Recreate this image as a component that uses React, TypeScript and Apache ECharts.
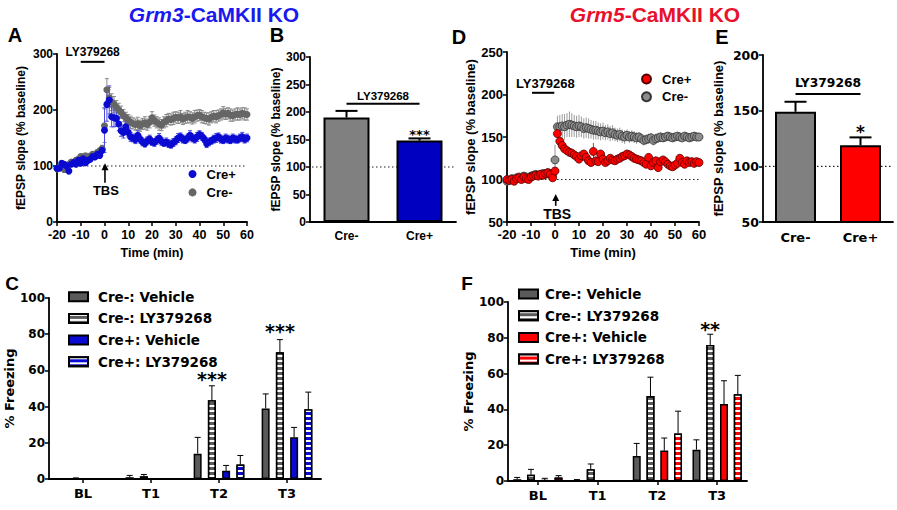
import React, { useEffect, useRef } from 'react';
import * as echarts from 'echarts';

// ---------- DATA ----------
const TIME = [-20,-19,-18,-17,-16,-15,-14,-13,-12,-11,-10,-9,-8,-7,-6,-5,-4,-3,-2,-1,0,1,2,3,4,5,6,7,8,9,10,11,12,13,14,15,16,17,18,19,20,21,22,23,24,25,26,27,28,29,30,31,32,33,34,35,36,37,38,39,40,41,42,43,44,45,46,47,48,49,50,51,52,53,54,55,56,57,58,59,60];

// Panel A (Grm3)
const A_CREP = [96,96,105,103,100,91,103,106,103,110,105,113,106,110,112,117,116,121,119,128,164,210,218,188,186,185,175,163,160,170,160,152,150,147,155,148,143,140,145,148,143,142,146,150,144,141,143,140,138,142,145,150,152,148,146,150,155,150,148,152,156,153,148,140,143,145,148,150,152,148,146,150,148,146,150,148,147,150,152,148,150];
const A_CREP_ERR = [3,4,4,3,4,5,4,4,3,4,4,5,4,4,4,5,4,5,4,5,40,30,25,18,16,14,12,10,10,9,8,8,7,7,8,7,7,6,7,7,6,7,7,8,7,6,7,7,6,7,7,8,7,7,6,7,8,7,7,8,7,7,6,7,7,6,7,8,7,7,6,7,7,6,7,7,6,7,8,7,7];
const A_CREM = [95,97,99,94,96,103,107,106,110,112,117,116,118,115,118,121,120,124,127,131,172,236,222,214,210,205,200,196,190,186,182,178,176,174,176,172,175,177,174,178,186,181,178,175,173,178,181,184,183,185,187,186,188,184,186,188,187,185,188,190,191,188,186,185,184,187,189,188,190,192,195,193,194,191,190,192,193,192,194,193,192];
const A_CREM_ERR = [5,5,4,5,5,5,4,5,5,5,4,5,5,5,4,5,5,5,5,6,30,20,18,15,14,12,12,11,11,10,10,11,10,10,11,10,10,11,10,10,11,10,10,11,10,10,11,10,10,11,10,10,11,10,10,11,10,10,11,10,10,11,10,10,11,10,10,11,10,10,11,10,10,11,10,10,11,10,10,11,10];

// Panel D (Grm5)
const D_CREP = [100,99,100,98,101,102,100,103,101,100,103,104,105,104,106,105,107,108,106,102,110,154,145,140,136,134,132,131,129,127,124,128,130,126,122,120,133,122,121,130,124,120,122,125,123,122,124,125,127,128,130,129,127,125,124,123,122,120,118,126,116,120,122,114,121,123,121,118,116,115,117,119,125,120,118,122,120,121,119,121,120];
const D_CREP_ERR = [2,2,2,2,2,2,2,2,2,2,2,2,2,2,2,2,2,2,2,2,4,4,4,4,4,3,3,3,3,3,3,3,3,3,3,3,10,3,3,4,3,3,3,3,3,3,3,3,3,3,3,3,3,3,3,3,3,3,3,3,3,3,3,3,3,3,3,3,3,3,3,3,3,3,3,3,3,3,3,3,3];
const D_CREM = [98,99,101,100,102,103,101,104,103,102,104,105,106,105,106,107,106,108,107,105,123,162,162,163,162,164,165,164,163,162,163,162,160,161,160,159,158,158,157,156,157,155,156,154,155,153,152,153,151,150,152,150,151,150,149,150,148,146,147,148,149,146,148,149,150,149,150,151,150,149,150,151,150,149,151,150,149,150,151,150,150];
const D_CREM_ERR = [3,3,3,3,3,3,3,3,3,3,3,3,3,3,3,3,3,3,3,3,18,13,14,14,15,14,15,14,13,13,13,12,12,12,12,11,11,11,10,10,10,9,9,9,9,8,8,8,8,8,7,7,7,7,7,6,6,6,6,6,6,6,6,6,6,5,5,5,5,5,5,5,5,5,5,5,5,5,5,5,5];

// Panel B / E (bars)
const BE_CATS = ['Cre-', 'Cre+'];
const B_VALS = [190, 148];
const B_TOPS = [202, 152];
const E_VALS = [149, 119];
const E_TOPS = [158, 126];

// Panels C / F (freezing)
const FZ_CATS = ['BL', 'T1', 'T2', 'T3'];
const FZ_NAMES = ['Cre-: Vehicle', 'Cre-: LY379268', 'Cre+: Vehicle', 'Cre+: LY379268'];
const C_VALS = [[0, 1, 14, 39], [0.3, 1.5, 43.5, 70], [0, 0, 4.5, 23], [0, 0, 8, 38.5]];
const C_TOPS = [[0, 2, 23, 47], [0.6, 2.5, 51.5, 77], [0, 0, 7.5, 28.5], [0, 0, 13, 48]];
const F_VALS = [[1, 0.3, 14, 17.5], [3.5, 6.5, 47.5, 76], [0.5, 0, 17, 43], [2, 0, 26.5, 48.5]];
const F_TOPS = [[2, 0.8, 21, 23], [6.5, 9.5, 58, 82], [1.5, 0, 24, 56], [3, 0, 39, 59]];

// ---------- STYLE ----------
const ARIAL = '"Liberation Sans", Arial, sans-serif';
const DEJA = '"DejaVu Sans", sans-serif';
const BLUE = '#0a0ad2';
const RED = '#ff0000';
const DGRAY = '#5a5a5a';

function scatterErr(xi: number, yi: number, vals: number[], errs: number[], color: string, cap: number, lw: number) {
  return {
    type: 'custom', xAxisIndex: xi, yAxisIndex: yi, silent: true,
    data: TIME.map((t, i) => [t, vals[i] - errs[i], vals[i] + errs[i]]),
    encode: { x: 0, y: [1, 2] },
    renderItem: (params: any, api: any) => {
      const lo = api.coord([api.value(0), api.value(1)]);
      const hi = api.coord([api.value(0), api.value(2)]);
      const st = { stroke: color, lineWidth: lw };
      const ch: any[] = [{ type: 'line', shape: { x1: lo[0], y1: lo[1], x2: hi[0], y2: hi[1] }, style: st }];
      if (cap > 0) {
        ch.push({ type: 'line', shape: { x1: hi[0] - cap / 2, y1: hi[1], x2: hi[0] + cap / 2, y2: hi[1] }, style: st });
        ch.push({ type: 'line', shape: { x1: lo[0] - cap / 2, y1: lo[1], x2: lo[0] + cap / 2, y2: lo[1] }, style: st });
      }
      return { type: 'group', children: ch };
    },
  };
}

function barErr(xi: number, yi: number, vals: number[], tops: number[], slot: number, n: number, step: number, cap: number, lw: number) {
  return {
    type: 'custom', xAxisIndex: xi, yAxisIndex: yi, silent: true, z: 5,
    data: vals.map((v, i) => [i, v, tops[i]]),
    encode: { x: 0, y: [1, 2] },
    renderItem: (params: any, api: any) => {
      const v = api.value(1), t = api.value(2);
      if (!(t > v)) return { type: 'group', children: [] };
      const c0 = api.coord([api.value(0), v]);
      const c1 = api.coord([api.value(0), t]);
      const x = c0[0] + (slot - (n - 1) / 2) * step;
      const st = { stroke: '#000', lineWidth: lw };
      return {
        type: 'group', children: [
          { type: 'line', shape: { x1: x, y1: c0[1], x2: x, y2: c1[1] }, style: st },
          { type: 'line', shape: { x1: x - cap / 2, y1: c1[1], x2: x + cap / 2, y2: c1[1] }, style: st },
        ],
      };
    },
  };
}

function dotted(xi: number, yi: number, x0: number) {
  return {
    type: 'custom', xAxisIndex: xi, yAxisIndex: yi, silent: true, z: 0,
    data: [[x0, 100]],
    renderItem: (params: any, api: any) => {
      const cs = params.coordSys;
      const y = api.coord([api.value(0), 100])[1];
      return { type: 'line', shape: { x1: cs.x + 2, y1: y, x2: cs.x + cs.width, y2: y }, style: { stroke: '#222', lineWidth: 1.2, lineDash: [1.5, 2.5] } };
    },
  };
}

function annot(xi: number, yi: number, items: any[]) {
  return {
    type: 'custom', xAxisIndex: xi, yAxisIndex: yi, silent: true, z: 6,
    data: items.map((it) => [it.x, it.y]),
    encode: { x: 0, y: 1 },
    renderItem: (params: any, api: any) => {
      const it = items[params.dataIndex];
      if (it.kind === 'hline') {
        const a = api.coord([it.x, it.y]);
        const b = api.coord([it.x2, it.y]);
        return { type: 'line', shape: { x1: a[0], y1: a[1], x2: b[0], y2: b[1] }, style: { stroke: '#000', lineWidth: it.lw || 2 } };
      }
      if (it.kind === 'arrow') {
        const a = api.coord([it.x, it.y]);
        const b = api.coord([it.x, it.y2]);
        return {
          type: 'group', children: [
            { type: 'line', shape: { x1: a[0], y1: a[1], x2: b[0], y2: b[1] + 4 }, style: { stroke: '#000', lineWidth: 1.6 } },
            { type: 'polygon', shape: { points: [[b[0], b[1]], [b[0] - 3.5, b[1] + 7], [b[0] + 3.5, b[1] + 7]] }, style: { fill: '#000' } },
          ],
        };
      }
      let p = api.coord([it.x, it.y]);
      if (it.xb !== undefined) {
        const q = api.coord([it.xb, it.y]);
        p = [(p[0] + q[0]) / 2, p[1]];
      }
      return {
        type: 'text', x: p[0] + (it.dx || 0), y: p[1],
        style: { text: it.text, fill: '#000', font: it.font, align: 'center', verticalAlign: 'middle' },
      };
    },
  };
}

function axisCommon(font: string, size: number) {
  return {
    axisLine: { show: true, onZero: false, lineStyle: { color: '#000', width: 1.8 } },
    axisTick: { show: true, length: 4, lineStyle: { color: '#000', width: 1.5 } },
    axisLabel: { color: '#000', fontFamily: font, fontWeight: 'bold', fontSize: size, margin: 4 },
    splitLine: { show: false },
    nameTextStyle: { color: '#000', fontFamily: font, fontWeight: 'bold', fontSize: size },
  };
}

const STRIPES = { symbol: 'rect', symbolSize: 1, color: '#ffffff', dashArrayX: [1, 0], dashArrayY: [2, 3], rotation: 0 };

function fzSeries(prefix: string, xi: number, vals: number[][], colors: string[], gap: string) {
  return FZ_NAMES.map((nm, k) => ({
    type: 'bar', name: prefix + nm, xAxisIndex: xi, yAxisIndex: xi, barWidth: 8, barGap: gap, z: 3,
    itemStyle: { color: colors[k], borderColor: '#000', borderWidth: 1.5, decal: k % 2 === 1 ? STRIPES : 'none' },
    data: vals[k],
  }));
}

function buildOption() {
  const grids = [
    { left: 57, top: 54, width: 190, height: 168 },   // A
    { left: 310, top: 57, width: 146, height: 165 },  // B
    { left: 507, top: 52, width: 192, height: 170 },  // D
    { left: 763, top: 55, width: 130, height: 167 },  // E
    { left: 49, top: 298, width: 272, height: 181 },  // C
    { left: 508, top: 302, width: 239, height: 179 }, // F
  ].map((g) => ({ ...g, containLabel: false, outerBoundsMode: 'none' }));

  const yName = 'fEPSP slope (% baseline)';
  const xAxis: any[] = [
    { type: 'value', gridIndex: 0, min: -20, max: 60, interval: 10, name: 'Time (min)', nameLocation: 'middle', nameGap: 24, ...axisCommon(ARIAL, 12.5) },
    { type: 'category', gridIndex: 1, data: BE_CATS, ...axisCommon(ARIAL, 12) },
    { type: 'value', gridIndex: 2, min: -20, max: 60, interval: 10, name: 'Time (min)', nameLocation: 'middle', nameGap: 24, ...axisCommon(ARIAL, 13) },
    { type: 'category', gridIndex: 3, data: BE_CATS, ...axisCommon(DEJA, 13) },
    { type: 'category', gridIndex: 4, data: FZ_CATS, ...axisCommon(DEJA, 13) },
    { type: 'category', gridIndex: 5, data: FZ_CATS, ...axisCommon(DEJA, 13) },
  ];
  xAxis[0].axisLabel = { ...xAxis[0].axisLabel, margin: 6 };
  xAxis[2].axisLabel = { ...xAxis[2].axisLabel, margin: 6 };
  xAxis[1].axisTick = { show: false };
  xAxis[3].axisTick = { show: false };
  xAxis[1].axisLabel = { ...xAxis[1].axisLabel, margin: 8 };
  xAxis[3].axisLabel = { ...xAxis[3].axisLabel, margin: 9 };
  xAxis[4].axisTick = { ...xAxis[4].axisTick, alignWithLabel: true };
  xAxis[5].axisTick = { ...xAxis[5].axisTick, alignWithLabel: true };
  xAxis[4].axisLabel = { ...xAxis[4].axisLabel, margin: 8 };
  xAxis[5].axisLabel = { ...xAxis[5].axisLabel, margin: 8 };

  const yAxis: any[] = [
    { type: 'value', gridIndex: 0, min: 0, max: 300, interval: 100, name: yName, nameLocation: 'middle', nameGap: 30, ...axisCommon(ARIAL, 12) },
    { type: 'value', gridIndex: 1, min: 0, max: 300, interval: 50, name: yName, nameLocation: 'middle', nameGap: 25, ...axisCommon(ARIAL, 12) },
    { type: 'value', gridIndex: 2, min: 50, max: 250, interval: 50, name: yName, nameLocation: 'middle', nameGap: 28, ...axisCommon(ARIAL, 13) },
    { type: 'value', gridIndex: 3, min: 50, max: 200, interval: 50, name: yName, nameLocation: 'middle', nameGap: 38, ...axisCommon(DEJA, 12.5) },
    { type: 'value', gridIndex: 4, min: 0, max: 100, interval: 20, name: '% Freezing', nameLocation: 'middle', nameGap: 29, ...axisCommon(DEJA, 12) },
    { type: 'value', gridIndex: 5, min: 0, max: 100, interval: 20, name: '% Freezing', nameLocation: 'middle', nameGap: 32, ...axisCommon(DEJA, 12) },
  ];
  yAxis[3].nameTextStyle = { ...yAxis[3].nameTextStyle, fontFamily: ARIAL, fontSize: 13 };
  yAxis[4].nameTextStyle = { ...yAxis[4].nameTextStyle, fontSize: 13 };
  yAxis[5].nameTextStyle = { ...yAxis[5].nameTextStyle, fontSize: 13 };

  const series: any[] = [
    // Panel A
    dotted(0, 0, 0),
    scatterErr(0, 0, A_CREM, A_CREM_ERR, '#8a8a8a', 4, 1),
    { type: 'scatter', name: 'A:Cre-', xAxisIndex: 0, yAxisIndex: 0, symbol: 'circle', symbolSize: 7, itemStyle: { color: '#666666', opacity: 1 }, data: TIME.map((t, i) => [t, A_CREM[i]]) },
    scatterErr(0, 0, A_CREP, A_CREP_ERR, '#4a4ae0', 4, 1),
    { type: 'scatter', name: 'A:Cre+', xAxisIndex: 0, yAxisIndex: 0, symbol: 'circle', symbolSize: 7, itemStyle: { color: BLUE, opacity: 1 }, data: TIME.map((t, i) => [t, A_CREP[i]]) },
    annot(0, 0, [
      { kind: 'hline', x: -10, x2: 0, y: 286, lw: 2 },
      { kind: 'text', x: -5, y: 303, text: 'LY379268', font: 'bold 12px ' + ARIAL },
      { kind: 'arrow', x: 0.2, y: 70, y2: 105 },
      { kind: 'text', x: 0.6, y: 57, text: 'TBS', font: 'bold 13px ' + ARIAL },
    ]),

    // Panel B
    dotted(1, 1, 0),
    { type: 'bar', name: 'B', xAxisIndex: 1, yAxisIndex: 1, barWidth: 46, z: 3,
      itemStyle: { borderColor: '#000', borderWidth: 2 },
      data: [{ value: B_VALS[0], itemStyle: { color: '#808080' } }, { value: B_VALS[1], itemStyle: { color: '#0000c0' } }] },
    barErr(1, 1, B_VALS, B_TOPS, 0, 1, 0, 22, 2),
    annot(1, 1, [
      { kind: 'hline', x: 0, x2: 1, y: 215, lw: 2 },
      { kind: 'text', x: 0, xb: 1, y: 229, text: 'LY379268', font: 'bold 11.5px ' + ARIAL },
      { kind: 'text', x: 1, y: 159, text: '***', font: 'bold 13px ' + DEJA },
    ]),

    // Panel D
    dotted(2, 2, 0),
    scatterErr(2, 2, D_CREM, D_CREM_ERR, '#9a9a9a', 0, 1),
    { type: 'scatter', name: 'D:Cre-', xAxisIndex: 2, yAxisIndex: 2, symbol: 'circle', symbolSize: 8, itemStyle: { color: '#8c8c8c', borderColor: '#333', borderWidth: 0.8, opacity: 1 }, data: TIME.map((t, i) => [t, D_CREM[i]]) },
    scatterErr(2, 2, D_CREP, D_CREP_ERR, '#a04040', 0, 1),
    { type: 'scatter', name: 'D:Cre+', xAxisIndex: 2, yAxisIndex: 2, symbol: 'circle', symbolSize: 8, itemStyle: { color: RED, borderColor: '#500', borderWidth: 0.8, opacity: 1 }, data: TIME.map((t, i) => [t, D_CREP[i]]) },
    annot(2, 2, [
      { kind: 'hline', x: -9.6, x2: -0.3, y: 202, lw: 2 },
      { kind: 'text', x: -4, y: 213, text: 'LY379268', font: 'bold 13px ' + ARIAL },
      { kind: 'arrow', x: 0.3, y: 69, y2: 83 },
      { kind: 'text', x: 0.9, y: 60, text: 'TBS', font: 'bold 14px ' + ARIAL },
    ]),

    // Panel E
    dotted(3, 3, 0),
    { type: 'bar', name: 'E', xAxisIndex: 3, yAxisIndex: 3, barWidth: 41, z: 3,
      itemStyle: { borderColor: '#000', borderWidth: 2 },
      data: [{ value: E_VALS[0], itemStyle: { color: '#808080' } }, { value: E_VALS[1], itemStyle: { color: RED } }] },
    barErr(3, 3, E_VALS, E_TOPS, 0, 1, 0, 22, 2),
    annot(3, 3, [
      { kind: 'hline', x: 0, x2: 1, y: 165, lw: 2 },
      { kind: 'text', x: 0, xb: 1, y: 175, text: 'LY379268', font: 'bold 12.3px ' + DEJA },
      { kind: 'text', x: 1, y: 131, text: '*', font: 'bold 17px ' + DEJA },
    ]),

    // Panel C
    ...fzSeries('C:', 4, C_VALS, [DGRAY, DGRAY, BLUE, BLUE], '78%'),
    ...C_VALS.map((v, k) => barErr(4, 4, v, C_TOPS[k], k, 4, 14.2, 6, 1)),
    annot(4, 4, [
      { kind: 'text', x: 2, y: 55, dx: -7, text: '***', font: 'bold 19px ' + DEJA },
      { kind: 'text', x: 3, y: 81.5, dx: -7, text: '***', font: 'bold 19px ' + DEJA },
    ]),

    // Panel F
    ...fzSeries('F:', 5, F_VALS, [DGRAY, DGRAY, RED, RED], '72%'),
    ...F_VALS.map((v, k) => barErr(5, 5, v, F_TOPS[k], k, 4, 13.8, 6, 1)),
    annot(5, 5, [
      { kind: 'text', x: 3, y: 85, dx: -7, text: '**', font: 'bold 19px ' + DEJA },
    ]),
  ];

  const legTxt = (font: string, size: number, lh: number, pad: number) => ({
    color: '#000', fontFamily: font, fontWeight: 'bold', fontSize: size, lineHeight: lh, padding: [0, 0, 0, pad],
  });
  const strip = (n: string) => n.slice(2);
  const legend = [
    { orient: 'vertical', left: 188.5, top: 167, padding: 0, itemWidth: 8, itemHeight: 8, itemGap: 4.4, icon: 'circle', selectedMode: false,
      data: ['A:Cre+', 'A:Cre-'], formatter: strip, textStyle: legTxt(ARIAL, 13, 14, 5) },
    { orient: 'vertical', left: 641, top: 72, padding: 0, itemWidth: 9, itemHeight: 9, itemGap: 3.7, icon: 'circle', selectedMode: false,
      data: ['D:Cre+', 'D:Cre-'], formatter: strip, textStyle: legTxt(ARIAL, 13, 14, 6) },
    { orient: 'vertical', left: 68, top: 288.7, padding: 0, itemWidth: 19, itemHeight: 9, itemGap: 5.7, icon: 'rect', selectedMode: false,
      data: FZ_NAMES.map((n) => 'C:' + n), formatter: strip, textStyle: legTxt(DEJA, 13.5, 16, 5) },
    { orient: 'vertical', left: 518, top: 286, padding: 0, itemWidth: 19, itemHeight: 9, itemGap: 5.7, icon: 'rect', selectedMode: false,
      data: FZ_NAMES.map((n) => 'F:' + n), formatter: strip, textStyle: legTxt(DEJA, 13.5, 16, 2) },
  ];

  const letter = (t: string, x: number, y: number, size: number) => ({
    type: 'text', x, y, style: { text: t, fill: '#000', font: 'bold ' + size + 'px ' + ARIAL, align: 'center', verticalAlign: 'middle' },
  });
  const title = (gene: string, x: number, color: string) => ({
    type: 'text', x, y: 14,
    style: {
      text: '{i|' + gene + '}{n|-CaMKII KO}', fill: color, align: 'center', verticalAlign: 'middle',
      rich: {
        i: { fontFamily: ARIAL, fontWeight: 'bold', fontStyle: 'italic', fontSize: 21, fill: color },
        n: { fontFamily: ARIAL, fontWeight: 'bold', fontSize: 21, fill: color },
      },
    },
  });

  return {
    animation: false,
    backgroundColor: '#ffffff',
    grid: grids,
    xAxis, yAxis, series, legend,
    graphic: [
      title('Grm3', 214, '#1a1aee'),
      title('Grm5', 655, '#e8112d'),
      letter('A', 15, 35, 20),
      letter('B', 277, 35, 20),
      letter('D', 459, 37, 20),
      letter('E', 722, 37, 20),
      letter('C', 12, 283, 19),
      letter('F', 467, 283, 19),
    ],
  };
}

export default function App() {
  const ref = useRef<HTMLDivElement>(null);
  useEffect(() => {
    document.body.style.margin = '0';
    if (!ref.current) return;
    const chart = echarts.init(ref.current, undefined, { renderer: 'svg' });
    chart.setOption(buildOption() as any);
    return () => chart.dispose();
  }, []);
  return <div ref={ref} style={{ width: 897, height: 510, background: '#fff' }} />;
}
